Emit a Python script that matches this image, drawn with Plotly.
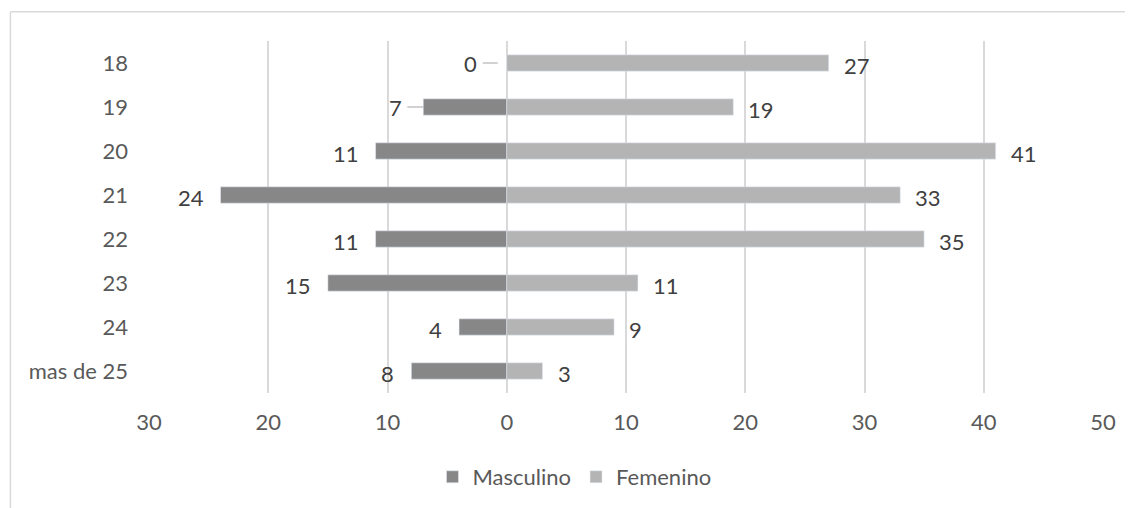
import plotly.graph_objects as go

categories = ["18", "19", "20", "21", "22", "23", "24", "mas de 25"]
masculino = [0, 7, 11, 24, 11, 15, 4, 8]
femenino = [27, 19, 41, 33, 35, 11, 9, 3]
tick_values = [-30, -20, -10, 0, 10, 20, 30, 40, 50]
tick_labels = ["30", "20", "10", "0", "10", "20", "30", "40", "50"]
leader_rows = ["18", "19"]

FONT = "Lato"
FS = 22
C_DARK = "#878787"
C_LIGHT = "#b4b4b4"
TXT = "#404040"
AX = "#595959"

fig = go.Figure()
fig.add_trace(go.Bar(
    y=categories, x=[-v for v in masculino], name="Masculino", orientation="h",
    marker=dict(color=C_DARK), width=0.37,
))
fig.add_trace(go.Bar(
    y=categories, x=femenino, name="Femenino", orientation="h",
    marker=dict(color=C_LIGHT), width=0.37,
))

annotations = []
for i, (cat, v) in enumerate(zip(categories, masculino)):
    if cat in leader_rows:
        annotations.append(dict(
            x=-v, y=i, text=str(v), showarrow=True, arrowhead=0, arrowwidth=1.2,
            arrowcolor="#a6a6a6", ax=-36 if v == 0 else -28, ay=0,
            standoff=9 if v == 0 else 0, startstandoff=4,
            font=dict(family=FONT, size=FS, color=TXT),
        ))
    else:
        annotations.append(dict(
            x=-v, y=i, text=str(v), showarrow=False, xanchor="right",
            xshift=-15, yshift=-2, font=dict(family=FONT, size=FS, color=TXT),
        ))
for i, v in enumerate(femenino):
    annotations.append(dict(
        x=v, y=i, text=str(v), showarrow=False, xanchor="left",
        xshift=13, yshift=-2, font=dict(family=FONT, size=FS, color=TXT),
    ))

# page body has an 8px margin; target plot area (screen px): x 148.6..1102.7, y 41..393
PL, PR, PT, PB = 140.6, 1094.7, 33, 385
pw, ph = PR - PL, PB - PT
x_left = (2 - PL) / pw
y_top = (PB - 3.7) / ph
shapes = [
    dict(type="line", xref="paper", yref="paper", x0=x_left, x1=x_left, y0=-1, y1=y_top,
         line=dict(color="#d9d9d9", width=1.5)),
    dict(type="line", xref="paper", yref="paper", x0=x_left, x1=1.3, y0=y_top, y1=y_top,
         line=dict(color="#d9d9d9", width=1.5)),
]

fig.update_layout(
    width=1133, height=508,
    margin=dict(l=PL, r=1133 - PR, t=PT, b=508 - PB, autoexpand=False),
    paper_bgcolor="white", plot_bgcolor="white",
    barmode="overlay",
    font=dict(family=FONT, size=FS, color=AX),
    showlegend=True,
    legend=dict(orientation="h", x=0.446, xanchor="center", y=-0.2386, yanchor="middle",
                font=dict(family=FONT, size=FS, color=AX), itemwidth=30, tracegroupgap=0),
    annotations=annotations,
    shapes=shapes,
    xaxis=dict(range=[-30, 50], tickvals=tick_values, ticktext=tick_labels,
               showgrid=True, gridcolor="#d9d9d9", gridwidth=1.5, zeroline=False,
               showline=False, ticks="", ticklabelstandoff=14, automargin=False,
               tickfont=dict(family=FONT, size=FS, color=AX)),
    yaxis=dict(type="category", categoryorder="array", categoryarray=categories,
               range=[len(categories) - 0.5, -0.5], automargin=False,
               showgrid=False, zeroline=False, showline=False, ticks="",
               ticklabelstandoff=20, tickfont=dict(family=FONT, size=FS, color=AX)),
)

fig.write_html("out.html")
